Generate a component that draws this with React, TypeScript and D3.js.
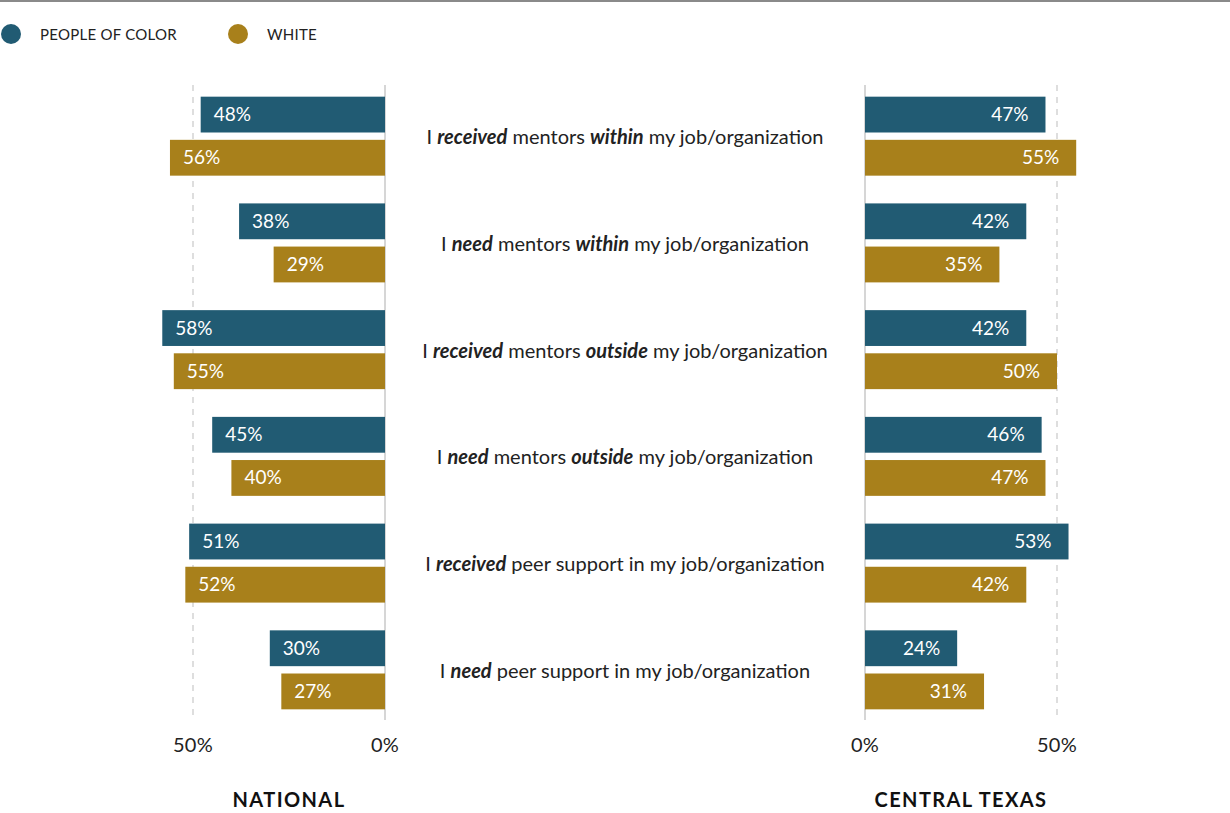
import React from "react";
import * as d3 from "d3";

const categories = [
  "I *received* mentors *within* my job/organization",
  "I *need* mentors *within* my job/organization",
  "I *received* mentors *outside* my job/organization",
  "I *need* mentors *outside* my job/organization",
  "I *received* peer support in my job/organization",
  "I *need* peer support in my job/organization",
];
const seriesNames = ["PEOPLE OF COLOR", "WHITE"];
const nationalPoc = [48, 38, 58, 45, 51, 30];
const nationalWhite = [56, 29, 55, 40, 52, 27];
const centralPoc = [47, 42, 42, 46, 53, 24];
const centralWhite = [55, 35, 50, 47, 42, 31];
const tickValues = [0, 50];
const panelTitles = ["NATIONAL", "CENTRAL TEXAS"];

const COLORS = ["#215B73", "#A8801B"];
const FONT = "Lato, 'Open Sans', sans-serif";

function parseSegments(s: string) {
  return s.split("*").map((t, i) => ({ text: t, em: i % 2 === 1 }));
}

export default function App() {
  const W = 1230;
  const H = 813;
  const y = d3.scaleBand<string>().domain(categories).range([86, 720]).paddingInner(0.26).paddingOuter(0.1);
  const ySub = d3.scaleBand<string>().domain(seriesNames).range([0, y.bandwidth()]).paddingInner(0.17);
  const xL = d3.scaleLinear().domain([0, 50]).range([385, 193]);
  const xR = d3.scaleLinear().domain([0, 50]).range([865, 1057]);

  const panels = [
    { x: xL, data: [nationalPoc, nationalWhite], side: "left", title: panelTitles[0] },
    { x: xR, data: [centralPoc, centralWhite], side: "right", title: panelTitles[1] },
  ];

  return (
    <svg width={W} height={H} style={{ position: "absolute", left: 0, top: 0, background: "#fff" }} fontFamily={FONT}>
      <line x1={0} x2={W} y1={1} y2={1} stroke="#8a8a8a" strokeWidth={2} />
      {/* legend */}
      {seriesNames.map((n, i) => {
        const lx = i === 0 ? 11 : 238;
        return (
          <g key={n}>
            <circle cx={lx} cy={34} r={10} fill={COLORS[i]} />
            <text x={lx + 29} y={39.5} fontSize={15} fill="#222" letterSpacing={0.25}>
              {n}
            </text>
          </g>
        );
      })}
      {panels.map((p, pi) => (
        <g key={pi}>
          {tickValues.map((t) => (
            <line
              key={t}
              x1={p.x(t)}
              x2={p.x(t)}
              y1={85}
              y2={720}
              stroke={t === 0 ? "#c8c8c8" : "#bdbdbd"}
              strokeWidth={t === 0 ? 1.5 : 1}
              strokeDasharray={t === 0 ? undefined : "6,6"}
            />
          ))}
          {categories.map((c, ci) =>
            seriesNames.map((s, si) => {
              const v = p.data[si][ci];
              const y0 = (y(c) as number) + (ySub(s) as number);
              const h = ySub.bandwidth();
              const x0 = Math.min(p.x(0), p.x(v));
              const w = Math.abs(p.x(v) - p.x(0));
              const lx = p.side === "left" ? p.x(v) + 13 : p.x(v) - 17;
              return (
                <g key={c + s}>
                  <rect x={x0} y={y0} width={w} height={h} fill={COLORS[si]} />
                  <text
                    x={lx}
                    y={y0 + h / 2 + 6.5}
                    fontSize={19}
                    fill="#fff"
                    textAnchor={p.side === "left" ? "start" : "end"}
                  >
                    {v}%
                  </text>
                </g>
              );
            })
          )}
          {tickValues.map((t) => (
            <text key={"t" + t} x={p.x(t)} y={752} fontSize={20} textAnchor="middle" fill="#222" letterSpacing={0.3}>
              {t}%
            </text>
          ))}
          <text
            x={pi === 0 ? 289 : 961}
            y={807}
            fontSize={20}
            fontWeight="bold"
            textAnchor="middle"
            fill="#111"
            letterSpacing={1.4}
          >
            {p.title}
          </text>
        </g>
      ))}
      {categories.map((c) => (
        <text
          key={c}
          x={625}
          y={(y(c) as number) + y.bandwidth() / 2 + 8}
          fontSize={20}
          textAnchor="middle"
          fill="#222"
        >
          {parseSegments(c).map((seg, i) => (
            <tspan key={i} fontStyle={seg.em ? "italic" : "normal"} fontWeight={seg.em ? "bold" : "normal"}>
              {seg.text}
            </tspan>
          ))}
        </text>
      ))}
    </svg>
  );
}
